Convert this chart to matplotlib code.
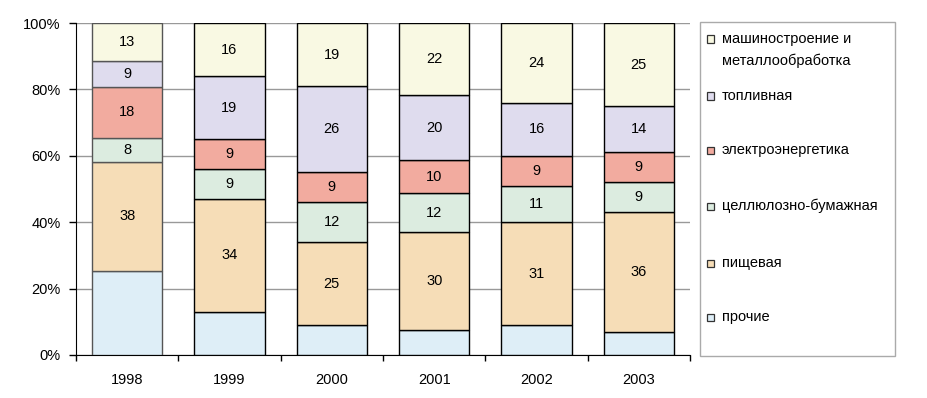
import matplotlib
matplotlib.use("Agg")
import matplotlib.pyplot as plt
import numpy as np
from matplotlib.patches import Rectangle
from matplotlib.ticker import FixedLocator

plt.rcParams['font.family'] = ['Liberation Sans', 'DejaVu Sans']

years = ['1998', '1999', '2000', '2001', '2002', '2003']
series_names = ['прочие', 'пищевая', 'целлюлозно-бумажная', 'электроэнергетика',
                'топливная', 'машиностроение и\nметаллообработка']
prochie = [29, 13, 9, 7.5, 9, 7]
pishchevaya = [38, 34, 25, 30, 31, 36]
cellulose = [8, 9, 12, 12, 11, 9]
electro = [18, 9, 9, 10, 9, 9]
toplivnaya = [9, 19, 26, 20, 16, 14]
mashino = [13, 16, 19, 22, 24, 25]
show_labels = [False, True, True, True, True, True]

colors = ['#DEEEF7', '#F6DDB7', '#DCECE0', '#F2AB9F', '#DFDCEE', '#F9F9E3']
edge_colors = ['#555555', 'black', 'black', 'black', 'black', 'black']

data = np.array([prochie, pishchevaya, cellulose, electro, toplivnaya, mashino], dtype=float)
totals = data.sum(axis=0)
pct = data / totals * 100

FS = 10.5
fig = plt.figure(figsize=(9.27, 3.98), dpi=100)
ax = fig.add_axes([76/927, 1-355/398, (690-76)/927, (355-23)/398])

x = np.arange(len(years))
bottom = np.zeros(len(years))
for i in range(len(series_names)):
    ax.bar(x, pct[i], bottom=bottom, width=0.69, color=colors[i],
           edgecolor=edge_colors, linewidth=1.0, zorder=3)
    if show_labels[i]:
        for j in range(len(years)):
            ax.text(x[j], bottom[j] + pct[i][j] / 2, f"{int(data[i][j])}",
                    ha='center', va='center', fontsize=FS, zorder=4)
    bottom += pct[i]

ax.set_xlim(-0.5, len(years) - 0.5)
ax.set_ylim(0, 100)
ax.set_yticks(np.arange(0, 101, 20))
ax.set_yticklabels([f"{v}%" for v in range(0, 101, 20)], fontsize=FS)
ax.yaxis.grid(True, color='#999999', linewidth=1.0, zorder=0)
ax.set_xticks(x)
ax.set_xticklabels(years, fontsize=FS)
ax.tick_params(axis='x', length=0, pad=13)
ax.xaxis.set_minor_locator(FixedLocator(np.arange(-0.5, len(years), 1.0)))
ax.tick_params(axis='x', which='minor', length=4, width=1, color='black', direction='out')
ax.tick_params(axis='y', length=5, width=1, direction='out', pad=6)
for s in ['top', 'right']:
    ax.spines[s].set_visible(False)
ax.spines['left'].set_color('black')
ax.spines['bottom'].set_color('black')

# Legend box
W, H = 927, 398
def fx(px):
    return px / W
def fy(py):
    return 1 - py / H

fig.patches.append(Rectangle((fx(700), fy(356)), fx(895) - fx(700), fy(22) - fy(356),
                             transform=fig.transFigure, facecolor='white',
                             edgecolor='#AAAAAA', linewidth=1.0))
legend_y = [39, 96, 150, 206, 263, 317]
order = list(range(len(series_names)))[::-1]
for yy, idx in zip(legend_y, order):
    fig.patches.append(Rectangle((fx(707), fy(yy + 3.5)), fx(7), 7 / H,
                                 transform=fig.transFigure, facecolor=colors[idx],
                                 edgecolor='#333333', linewidth=0.9))
    name = series_names[idx]
    lines = name.split('\n')
    for k, ln in enumerate(lines):
        fig.text(fx(722), fy(yy + k * 22), ln, ha='left', va='center', fontsize=FS)

fig.savefig('out.png', dpi=100)
